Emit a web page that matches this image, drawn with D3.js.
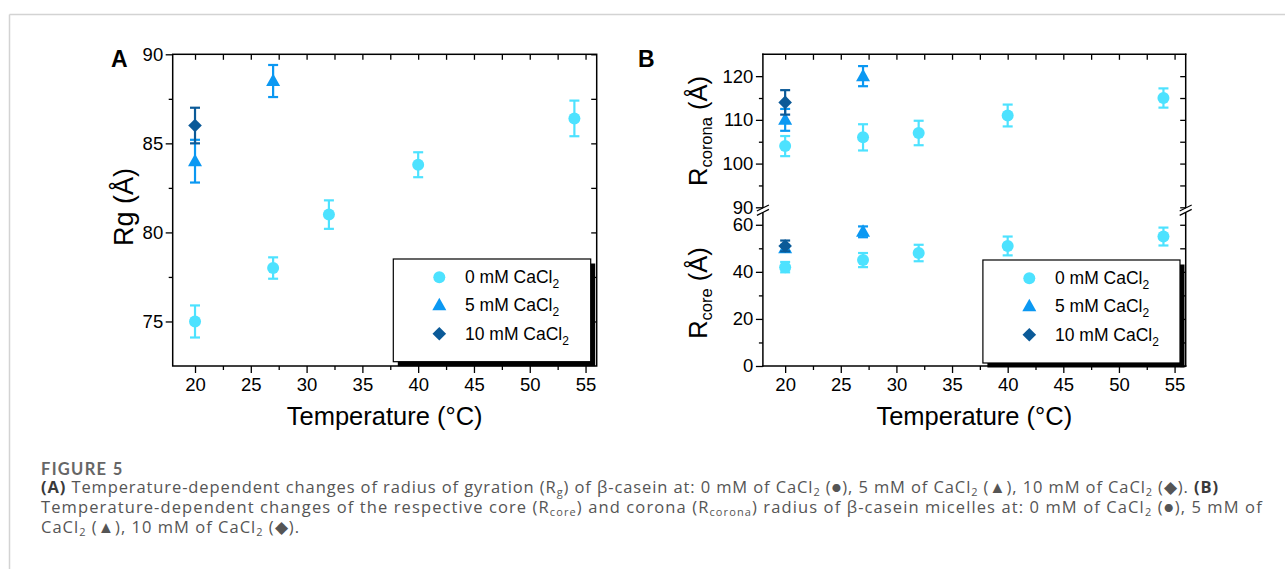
<!DOCTYPE html>
<html><head><meta charset="utf-8">
<script src="https://cdn.jsdelivr.net/npm/d3@7"></script>
<style>html,body{margin:0;padding:0;background:#fff;}svg{display:block;}</style>
</head><body>
<svg id="chart" width="1285" height="569"></svg>
<script>
// ---------- data ----------
const series = ["0 mM CaCl", "5 mM CaCl", "10 mM CaCl"];
const colors = ["#4de2ff", "#0b98f2", "#0b5a98"];
const temps0 = [20, 27, 32, 40, 54];
const temps5 = [20, 27];
const temps10 = [20];
// Panel A: Rg
const rg0 = [75, 78, 81, 83.8, 86.4];
const rg0Err = [0.9, 0.6, 0.8, 0.7, 1.0];
const rg5 = [84, 88.5];
const rg5Err = [1.2, 0.9];
const rg10 = [86];
const rg10Err = [1.0];
// Panel B: corona
const corona0 = [104, 106, 107, 111, 115];
const corona0Err = [2.3, 3.0, 2.8, 2.5, 2.2];
const corona5 = [110, 120];
const corona5Err = [2.5, 2.3];
const corona10 = [114];
const corona10Err = [2.8];
// Panel B: core
const core0 = [42, 45, 48, 51, 55];
const core0Err = [2.2, 3.0, 3.5, 4.0, 3.8];
const core5 = [50, 57];
const core5Err = [1.5, 2.3];
const core10 = [51];
const core10Err = [2.3];
// ticks
const xTicks = [20, 25, 30, 35, 40, 45, 50, 55];
const rgTicks = [75, 80, 85, 90];
const coronaTicks = [90, 100, 110, 120];
const coreTicks = [0, 20, 40, 60];

const svg = d3.select("#chart");
const AX = "'Liberation Sans', Arial, sans-serif";
const TICK_FS = 18.5, TITLE_FS = 25.5;

// ---------- page frame ----------
svg.append("line").attr("x1", 9.5).attr("x2", 1285).attr("y1", 14.5).attr("y2", 14.5)
  .attr("stroke", "#d3d3d3").attr("stroke-width", 1.5);
svg.append("line").attr("x1", 9.5).attr("x2", 9.5).attr("y1", 14.5).attr("y2", 569)
  .attr("stroke", "#d3d3d3").attr("stroke-width", 1.5);

// ---------- marker shapes ----------
function markerPath(kind) {
  const p = d3.path();
  if (kind === 0) { p.arc(0, 0, 6, 0, 2 * Math.PI); }
  else if (kind === 1) { p.moveTo(0, -7.5); p.lineTo(7, 5); p.lineTo(-7, 5); p.closePath(); }
  else { p.moveTo(0, -6.8); p.lineTo(6.8, 0); p.lineTo(0, 6.8); p.lineTo(-6.8, 0); p.closePath(); }
  return p.toString();
}

function drawSeries(g, x, y, temps, vals, errs, k) {
  const grp = g.append("g");
  temps.forEach((t, i) => {
    const cx = x(t), cy = y(vals[i]);
    const yHi = y(vals[i] + errs[i]), yLo = y(vals[i] - errs[i]);
    const c = colors[k];
    grp.append("line").attr("x1", cx).attr("x2", cx).attr("y1", yHi).attr("y2", yLo)
      .attr("stroke", c).attr("stroke-width", 2.2);
    [yHi, yLo].forEach(yy => grp.append("line").attr("x1", cx - 5).attr("x2", cx + 5)
      .attr("y1", yy).attr("y2", yy).attr("stroke", c).attr("stroke-width", 2.2));
    grp.append("path").attr("d", markerPath(k)).attr("transform", `translate(${cx},${cy})`)
      .attr("fill", c);
  });
}

function styleAxis(sel) {
  sel.select(".domain").remove();
  sel.selectAll("line").attr("stroke", "#000").attr("stroke-width", 1.3);
  sel.selectAll("text").attr("font-family", AX).attr("font-size", TICK_FS).attr("fill", "#000");
}

function xAxes(g, x, yTop, yBot) {
  const bt = g.append("g").attr("transform", `translate(0,${yBot})`)
    .call(d3.axisBottom(x).tickValues(xTicks).tickSize(7).tickPadding(5).tickFormat(d3.format("d")));
  styleAxis(bt);
  const bm = g.append("g").attr("transform", `translate(0,${yBot})`)
    .call(d3.axisBottom(x).tickValues(xTicks.slice(0, -1).map(v => v + 2.5)).tickSize(4).tickFormat(""));
  styleAxis(bm);
  const tp = g.append("g").attr("transform", `translate(0,${yTop})`)
    .call(d3.axisBottom(x).tickValues(d3.range(20, 56, 2.5)).tickSize(5.5).tickFormat(""));
  styleAxis(tp);
}

function yAxes(g, y, xL, xR, majors, minors) {
  const l = g.append("g").attr("transform", `translate(${xL},0)`)
    .call(d3.axisLeft(y).tickValues(majors).tickSize(7).tickPadding(2.5).tickFormat(d3.format("d")));
  styleAxis(l);
  const lm = g.append("g").attr("transform", `translate(${xL},0)`)
    .call(d3.axisLeft(y).tickValues(minors).tickSize(4).tickFormat(""));
  styleAxis(lm);
  const r = g.append("g").attr("transform", `translate(${xR},0)`)
    .call(d3.axisLeft(y).tickValues(majors.concat(minors)).tickSize(-5.5).tickFormat(""));
  r.selectAll(".tick line").attr("x2", -5.5);
  styleAxis(r);
}

function legend(g, x0, y0, w, h, symX, textX, rows) {
  g.append("rect").attr("x", x0 + 4.5).attr("y", y0 + 4.5).attr("width", w).attr("height", h).attr("fill", "#000");
  g.append("rect").attr("x", x0).attr("y", y0).attr("width", w).attr("height", h)
    .attr("fill", "#fff").attr("stroke", "#000").attr("stroke-width", 1.2);
  series.forEach((s, k) => {
    g.append("path").attr("d", markerPath(k)).attr("transform", `translate(${symX},${rows[k]})`).attr("fill", colors[k]);
    const t = g.append("text").attr("x", textX).attr("y", rows[k] + 6)
      .attr("font-family", AX).attr("font-size", 17.5).attr("fill", "#000");
    t.append("tspan").text(s);
    t.append("tspan").attr("font-size", 12).attr("dy", 5).text("2");
  });
}

// ---------- Panel A ----------
const gA = svg.append("g");
const xA = d3.scaleLinear([18, 56], [172.7, 596.7]);
const yA = d3.scaleLinear([72.5, 90], [366, 54.3]);
xAxes(gA, xA, 54.3, 366);
yAxes(gA, yA, 172.7, 596.7, rgTicks, [77.5, 82.5, 87.5]);
gA.append("rect").attr("x", 172.7).attr("y", 54.3).attr("width", 596.7 - 172.7).attr("height", 366 - 54.3)
  .attr("fill", "none").attr("stroke", "#000").attr("stroke-width", 1.5);
legend(gA, 393.3, 259, 197.4, 102.7, 439.3, 465, [277.3, 305.3, 333.8]);
drawSeries(gA, xA, yA, temps0, rg0, rg0Err, 0);
drawSeries(gA, xA, yA, temps5, rg5, rg5Err, 1);
drawSeries(gA, xA, yA, temps10, rg10, rg10Err, 2);
gA.append("text").attr("x", 111).attr("y", 67).attr("font-family", AX).attr("font-weight", "bold")
  .attr("font-size", 23).text("A");
gA.append("text").attr("x", 384.7).attr("y", 425).attr("text-anchor", "middle")
  .attr("font-family", AX).attr("font-size", TITLE_FS).text("Temperature (°C)");
gA.append("text").attr("transform", "translate(133,207) rotate(-90)").attr("text-anchor", "middle")
  .attr("font-family", AX).attr("font-size", 27).text("Rg (Å)");

// ---------- Panel B ----------
const gB = svg.append("g");
const xB = d3.scaleLinear([18, 56], [762.9, 1185.7]);
const yBu = d3.scaleLinear([90, 125], [207.3, 54.3]);
const yBl = d3.scaleLinear([0, 65], [366, 213]);
xAxes(gB, xB, 54.3, 366);
yAxes(gB, yBu, 762.9, 1185.7, coronaTicks, [95, 105, 115]);
yAxes(gB, yBl, 762.9, 1185.7, coreTicks, [10, 30, 50]);
const fr = [[762.9, 54.3, 1185.7, 54.3], [762.9, 366, 1185.7, 366],
  [762.9, 54.3, 762.9, yBu(90)], [762.9, yBl(65), 762.9, 366],
  [1185.7, 54.3, 1185.7, yBu(90)], [1185.7, yBl(65), 1185.7, 366]];
fr.forEach(s => gB.append("line").attr("x1", s[0]).attr("y1", s[1]).attr("x2", s[2]).attr("y2", s[3])
  .attr("stroke", "#000").attr("stroke-width", 1.5).attr("stroke-linecap", "square"));
const yBreak = (yBu(90) + yBl(65)) / 2;
[762.9, 1185.7].forEach(ax => {
  [-2.2, 2.2].forEach(off => gB.append("line").attr("x1", ax - 6).attr("y1", yBreak + off + 3)
    .attr("x2", ax + 6).attr("y2", yBreak + off - 3).attr("stroke", "#000").attr("stroke-width", 1.2));
});
legend(gB, 982.9, 260, 197.1, 103, 1029.3, 1055, [278.3, 306.3, 334.8]);
drawSeries(gB, xB, yBu, temps0, corona0, corona0Err, 0);
drawSeries(gB, xB, yBu, temps5, corona5, corona5Err, 1);
drawSeries(gB, xB, yBu, temps10, corona10, corona10Err, 2);
drawSeries(gB, xB, yBl, temps0, core0, core0Err, 0);
drawSeries(gB, xB, yBl, temps5, core5, core5Err, 1);
drawSeries(gB, xB, yBl, temps10, core10, core10Err, 2);
gB.append("text").attr("x", 638).attr("y", 67).attr("font-family", AX).attr("font-weight", "bold")
  .attr("font-size", 23).text("B");
gB.append("text").attr("x", (762.9 + 1185.7) / 2).attr("y", 425).attr("text-anchor", "middle")
  .attr("font-family", AX).attr("font-size", TITLE_FS).text("Temperature (°C)");
function rTitle(cy, sub) {
  const t = gB.append("text").attr("transform", `translate(707,${cy}) rotate(-90)`).attr("text-anchor", "middle")
    .attr("font-family", AX).attr("font-size", 25.5);
  t.append("tspan").text("R");
  t.append("tspan").attr("font-size", 16.5).attr("dy", 5).text(sub);
  t.append("tspan").attr("dy", -5).text("\u00a0(Å)");
}
rTitle(131, "corona");
rTitle(293, "core");

// ---------- caption ----------
const CF = "'Open Sans', Lato, sans-serif";
svg.append("text").attr("x", 41).attr("y", 475).attr("font-family", "Lato, sans-serif").attr("font-weight", 700)
  .attr("font-size", 16.5).attr("letter-spacing", 1.3).attr("fill", "#666").text("FIGURE 5");
const capLines = [
  [["b", "(A)"], ["n", " Temperature-dependent changes of radius of gyration (R"], ["s", "g"], ["n", ") of β-casein at: 0 mM of CaCl"], ["s", "2"], ["n", " (●), 5 mM of CaCl"], ["s", "2"], ["n", " (▲), 10 mM of CaCl"], ["s", "2"], ["n", " (◆). "], ["b", "(B)"]],
  [["n", "Temperature-dependent changes of the respective core (R"], ["s", "core"], ["n", ") and corona (R"], ["s", "corona"], ["n", ") radius of β-casein micelles at: 0 mM of CaCl"], ["s", "2"], ["n", " (●), 5 mM of"]],
  [["n", "CaCl"], ["s", "2"], ["n", " (▲), 10 mM of CaCl"], ["s", "2"], ["n", " (◆)."]]
];
const capY = [492.5, 512.5, 532.5];
const capWidth = [1177, 1220.7, 258];
capLines.forEach((parts, i) => {
  const t = svg.append("text").attr("x", 41).attr("y", capY[i]).attr("font-family", CF)
    .attr("font-size", 16.5).attr("fill", "#555")
    .attr("textLength", capWidth[i]).attr("lengthAdjust", "spacing");
  let shifted = false;
  parts.forEach(([k, s]) => {
    const ts = t.append("tspan").text(s);
    if (k === "b") ts.attr("font-weight", 700).attr("fill", "#3a3a3a");
    if (k === "s") { ts.attr("font-size", 11).attr("dy", 3.5); shifted = true; }
    else if (shifted) { ts.attr("dy", -3.5); shifted = false; }
  });
});
</script>
</body></html>
